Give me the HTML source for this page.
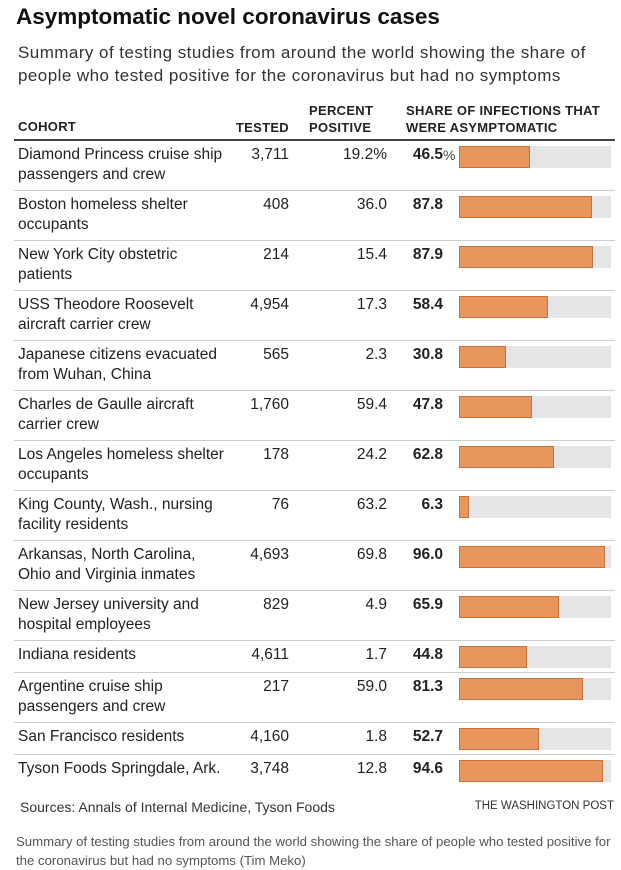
<!DOCTYPE html>
<html><head><meta charset="utf-8"><style>
body{margin:0;width:621px;height:869px;background:#fff;font-family:"Liberation Sans",sans-serif;color:#222;position:relative;overflow:hidden}
.a{position:absolute;white-space:nowrap}
.h{font-size:13px;font-weight:bold;color:#222;letter-spacing:0.3px}
.t{font-size:15.5px;color:#222;line-height:20px}
.sep{position:absolute;left:14px;width:601px;height:1px;background:#ccc}
</style></head><body>
<div class="a" style="left:16px;top:4px;font-size:22.5px;font-weight:bold;color:#111">Asymptomatic novel coronavirus cases</div>
<div class="a" style="left:18px;top:41px;font-size:17px;letter-spacing:0.45px;line-height:23px;color:#333">Summary of testing studies from around the world showing the share of<br>people who tested positive for the coronavirus but had no symptoms</div>
<div class="a h" style="left:18px;top:119px">COHORT</div>
<div class="a h" style="right:332px;top:120px">TESTED</div>
<div class="a h" style="left:309px;top:102px;line-height:17px">PERCENT<br>POSITIVE</div>
<div class="a h" style="left:406px;top:102px;line-height:17px">SHARE OF INFECTIONS THAT<br>WERE ASYMPTOMATIC</div>
<div class="a" style="left:14px;top:139px;width:601px;height:2px;background:#444"></div>
<div id="rows"></div>
<div class="a" style="left:20px;top:799px;font-size:14px;color:#333">Sources: Annals of Internal Medicine, Tyson Foods</div>
<div class="a" style="right:7px;top:800px;font-size:11.5px;color:#333">THE WASHINGTON POST</div>
<div class="a" style="left:16px;top:832px;font-size:13.2px;line-height:19px;color:#555">Summary of testing studies from around the world showing the share of people who tested positive for<br>the coronavirus but had no symptoms (Tim Meko)</div>
<script>
const cohorts=["Diamond Princess cruise ship|passengers and crew","Boston homeless shelter|occupants","New York City obstetric|patients","USS Theodore Roosevelt|aircraft carrier crew","Japanese citizens evacuated|from Wuhan, China","Charles de Gaulle aircraft|carrier crew","Los Angeles homeless shelter|occupants","King County, Wash., nursing|facility residents","Arkansas, North Carolina,|Ohio and Virginia inmates","New Jersey university and|hospital employees","Indiana residents","Argentine cruise ship|passengers and crew","San Francisco residents","Tyson Foods Springdale, Ark."];
const tested=["3,711","408","214","4,954","565","1,760","178","76","4,693","829","4,611","217","4,160","3,748"];
const positive=["19.2%","36.0","15.4","17.3","2.3","59.4","24.2","63.2","69.8","4.9","1.7","59.0","1.8","12.8"];
const share=[46.5,87.8,87.9,58.4,30.8,47.8,62.8,6.3,96.0,65.9,44.8,81.3,52.7,94.6];
const root=document.getElementById('rows');
const X0=459,TW=152;
function xs(v){return v/100*TW;}
let rowY=141;
cohorts.forEach((c,i)=>{
  const lines=c.split('|');
  const h=lines.length>1?50:32;
  const g=document.createElement('div');
  
  
  const y=rowY+4;
  g.innerHTML=`<div class="a t" style="left:18px;top:${y}px">${lines.join('<br>')}</div>
<div class="a t" style="right:332px;top:${y}px">${tested[i]}</div>
<div class="a t" style="right:234px;top:${y}px">${positive[i]}</div>
<div class="a t" style="right:178px;top:${y}px;font-weight:bold">${share[i].toFixed(1)}</div>
${i==0?`<div class="a t" style="left:443px;top:${y}px;font-size:14px;color:#444">%</div>`:''}
<div class="a" style="left:${X0}px;top:${y+1}px;width:${TW}px;height:22px;background:#e4e5e7"></div>
<div class="a" style="left:${X0}px;top:${y+1}px;width:${xs(share[i])-2}px;height:20px;background:#e8965c;border:1px solid #c8703f"></div>`;
  root.appendChild(g);
  rowY+=h;
  if(i<cohorts.length-1){
    const s=document.createElement('div');s.className='sep';s.style.top=(rowY-1)+'px';
    
    
    root.appendChild(s);
  }
});
</script>
</body></html>
